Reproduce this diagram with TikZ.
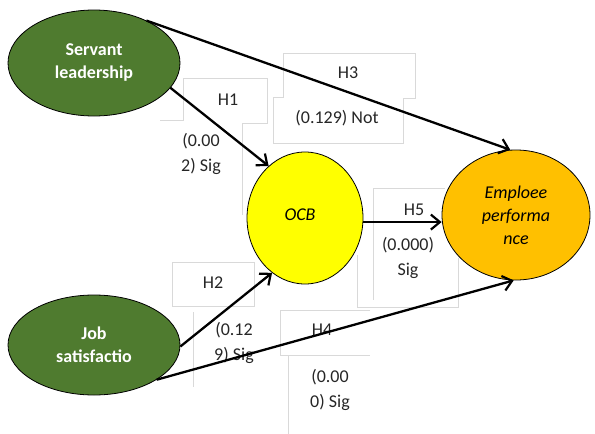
\documentclass[tikz,border=0pt]{standalone}
\usepackage{fontspec}
\setmainfont{Carlito}
\usetikzlibrary{shapes.geometric,arrows.meta}
\definecolor{dgreen}{HTML}{4F7B2F}
\definecolor{ocbyellow}{HTML}{FFFF00}
\definecolor{eporange}{HTML}{FFC000}
\definecolor{boxgray}{HTML}{D9D9D9}
\definecolor{labelgray}{HTML}{262626}
\begin{document}
\begin{tikzpicture}[x=1pt,y=-1pt,
 construct/.style={ellipse, draw=black, line width=0.8pt, inner sep=0pt, align=center},
 latent/.style={construct, fill=dgreen, text=white, font=\fontsize{18}{23}\selectfont\bfseries, minimum width=172pt, minimum height=106pt},
 lbl/.style={text=labelgray, font=\fontsize{18}{25}\selectfont, align=center, inner sep=0pt},
 hyp/.style={draw=black, line width=2.3pt, -{Straight Barb[length=9pt,width=15pt,line width=2.2pt]}},
 boxline/.style={draw=boxgray, line width=0.8pt},
]
\useasboundingbox (0,0) rectangle (595,434);
% faint text-box outlines
\draw[boxline] (160,120) -- (183,120) -- (183,78) -- (267,78) -- (267,123) -- (242,123) -- (242,215);
\draw[boxline] (273,143) -- (273,97) -- (283,97) -- (283,53) -- (415,53) -- (415,98) -- (403,98) -- (403,143) -- cycle;
\draw[boxline] (445,188) -- (373,188) -- (373,300);
\draw[boxline] (357,255) -- (357,307) -- (458,307) -- (458,258);
\draw[boxline] (172,262) rectangle (254,306);
\draw[boxline] (193,312) -- (193,387);
\draw[boxline] (370,310) -- (280,310) -- (280,355) -- (370,355);
\draw[boxline] (288,355) -- (288,434);
% labels
\node[lbl] (h1) at (228,100) {H1};
\node[lbl] (h1v) at (201,154) {(0.00\\2) Sig};
\node[lbl] (h3) at (348,73) {H3};
\node[lbl] (h3v) at (337,118) {(0.129) Not};
\node[lbl] (h5) at (414,210) {H5};
\node[lbl] (h5v) at (408,258) {(0.000)\\Sig};
\node[lbl] (h2) at (213,283) {H2};
\node[lbl] (h2v) at (234,343) {(0.12\\9) Sig};
\node[lbl] (h4) at (322,330) {H4};
\node[lbl] (h4v) at (330,390) {(0.00\\0) Sig};
% constructs
\node[latent] (sl) at (94,63) {Servant\\leadership};
\node[latent, minimum height=100pt] (js) at (94,345) {Job\\satisfactio};
\node[construct, fill=ocbyellow, minimum width=116pt, minimum height=132pt, font=\fontsize{18}{23}\selectfont\itshape] (ocb) at (305,218) {\raisebox{6pt}{OCB\hspace{10pt}}};
\node[construct, fill=eporange, minimum width=148pt, minimum height=130pt, font=\fontsize{18}{23}\selectfont\itshape] (ep) at (516,215) {Emploee\\performa\\nce};
% paths
\draw[hyp] (sl.-18) -- (ocb.125);
\draw[hyp] (sl.39) -- (ep.95);
\draw[hyp] (js.-1) -- (ocb.239);
\draw[hyp] (js.-29) -- (ep.268);
\draw[hyp] (ocb.-4) -- (ep.west |- ocb.-4);
\end{tikzpicture}
\end{document}
